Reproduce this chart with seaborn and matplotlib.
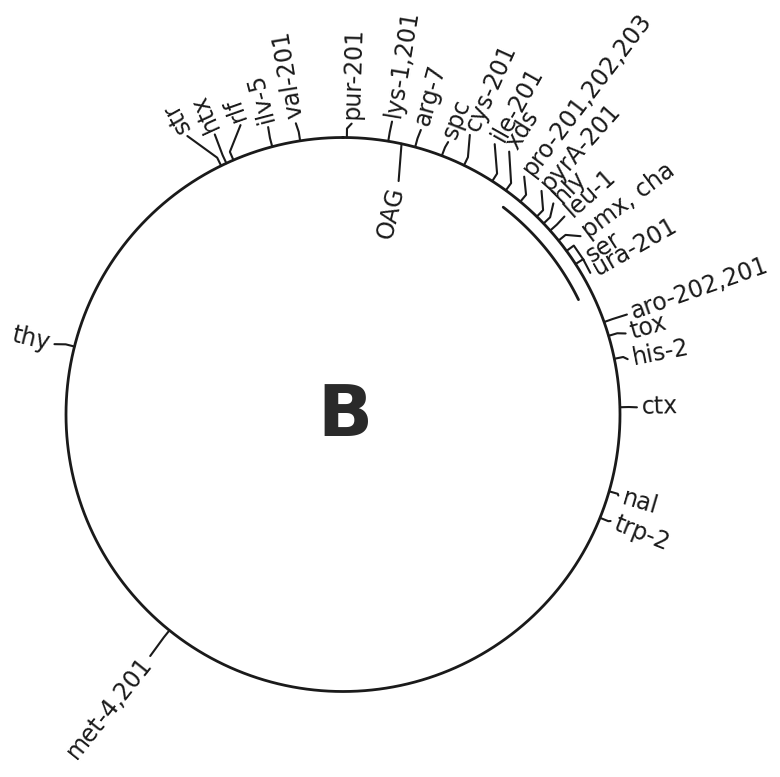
import numpy as np
import pandas as pd
import seaborn as sns
import matplotlib.pyplot as plt

sns.set_style("white")
plt.rcParams['font.family'] = ['DejaVu Sans']

# ----------------------
# 1) map data: gene position on the circle (deg, clockwise from top)
# ----------------------
genes = ["str", "htx", "rlf", "ilv-5", "val-201", "pur-201", "lys-1,201", "arg-7",
         "spc", "cys-201", "ile-201", "xds", "pro-201,202,203", "pyrA-201", "hly",
         "leu-1", "pmx, cha", "ser", "ura-201", "aro-202,201", "tox", "his-2", "ctx",
         "nal", "trp-2", "met-4,201", "thy"]
gene_pos = [-26.1, -24.9, -23.3, -14.8, -8.9, 0.8, 9.4, 15.1,
            20.9, 25.9, 32.6, 36.0, 39.8, 44.4, 46.4,
            48.4, 51.1, 53.8, 57.1, 70.5, 73.5, 78.4, 88.5,
            106.1, 111.9, -141.2, -75.8]
# where each label sits (angle) and how far out (px)
label_pos = [-29.2, -24.6, -19.5, -14.6, -9.2, 1.7, 9.5, 15.3,
             21.1, 24.4, 29.3, 32.3, 37.3, 41.6, 44.9,
             48.2, 53.1, 57.3, 60.2, 70.6, 74.0, 79.0, 88.6,
             106.4, 111.7, -141.4, -76.3]
label_r = [324, 313, 312, 302, 300, 296, 302, 300,
           297, 312, 315, 316, 304, 304, 303,
           302, 302, 291, 290, 306, 299, 295, 299,
           292, 293, 314, 302]

# inner marker OAG
inner_gene = "OAG"
inner_pos = 12.2
inner_label_pos = 13.4

# inner arc span (deg)
arc_span = [37.7, 64.0]

cx, cy, R = 343, 414.5, 277


def pt(theta, r):
    t = np.deg2rad(theta)
    return cx + r * np.sin(t), cy - r * np.cos(t)


fig = plt.figure(figsize=(7.8, 7.77), dpi=100)
ax = fig.add_axes([0, 0, 1, 1])

th = np.linspace(0, 360, 721)
circ = pd.DataFrame({"x": pt(th, R)[0], "y": pt(th, R)[1]})
sns.lineplot(data=circ, x="x", y="y", sort=False, estimator=None, color="#1a1a1a", lw=2.0, ax=ax)

th2 = np.linspace(arc_span[0], arc_span[1], 100)
arc = pd.DataFrame({"x": pt(th2, 262)[0], "y": pt(th2, 262)[1]})
sns.lineplot(data=arc, x="x", y="y", sort=False, estimator=None, color="#1a1a1a", lw=2.0, ax=ax)

# ----------------------
# 2) ticks, leaders and labels
# ----------------------
for g, gp, lp, lr in zip(genes, gene_pos, label_pos, label_r):
    x0, y0 = pt(gp, R)
    x1, y1 = pt(gp, R + 9)
    x2, y2 = pt(lp, lr - 5)
    ax.plot([x0, x1, x2], [y0, y1, y2], color="#1a1a1a", lw=1.5)
    xt, yt = pt(lp, lr)
    if lp < -45:
        rot, ha = 90 - lp - 180, "right"
    else:
        rot, ha = 90 - lp, "left"
    ax.text(xt, yt, g, rotation=rot, rotation_mode="anchor", ha=ha, va="center",
            fontsize=17, color="#1a1a1a")

x0, y0 = pt(inner_pos, R)
x2, y2 = pt(inner_label_pos, 240)
ax.plot([x0, x2], [y0, y2], color="#1a1a1a", lw=1.5)
xt, yt = pt(inner_label_pos, 234)
ax.text(xt, yt, inner_gene, rotation=90 - inner_label_pos, rotation_mode="anchor",
        ha="right", va="center", fontsize=17, color="#1a1a1a")

ax.text(cx + 2, cy + 2, "B", ha="center", va="center", fontsize=52,
        fontweight="bold", color="#2a2a2a")

ax.set_xlim(0, 780)
ax.set_ylim(777, 0)
ax.axis("off")
fig.savefig("out.png", dpi=100)
